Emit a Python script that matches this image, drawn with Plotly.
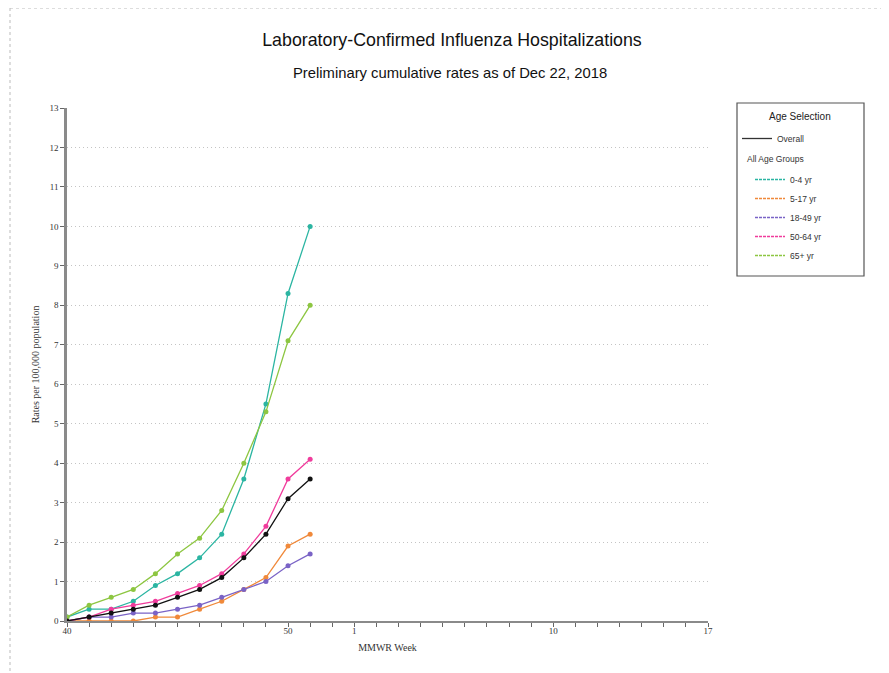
import plotly.graph_objects as go

# MMWR week categories (season axis)
weeks = ["40", "41", "42", "43", "44", "45", "46", "47", "48", "49", "50", "51", "52",
         "1", "2", "3", "4", "5", "6", "7", "8", "9", "10", "11", "12", "13", "14", "15", "16", "17"]
tick_labels = {"40": "40", "50": "50", "1": "1", "10": "10", "17": "17"}

observed_weeks = ["40", "41", "42", "43", "44", "45", "46", "47", "48", "49", "50", "51"]
overall = [0.0, 0.1, 0.2, 0.3, 0.4, 0.6, 0.8, 1.1, 1.6, 2.2, 3.1, 3.6]
rates_0_4 = [0.1, 0.3, 0.3, 0.5, 0.9, 1.2, 1.6, 2.2, 3.6, 5.5, 8.3, 10.0]
rates_5_17 = [0.0, 0.0, 0.0, 0.0, 0.1, 0.1, 0.3, 0.5, 0.8, 1.1, 1.9, 2.2]
rates_18_49 = [0.0, 0.1, 0.1, 0.2, 0.2, 0.3, 0.4, 0.6, 0.8, 1.0, 1.4, 1.7]
rates_50_64 = [0.0, 0.1, 0.3, 0.4, 0.5, 0.7, 0.9, 1.2, 1.7, 2.4, 3.6, 4.1]
rates_65_plus = [0.1, 0.4, 0.6, 0.8, 1.2, 1.7, 2.1, 2.8, 4.0, 5.3, 7.1, 8.0]

groups = [
    ("0-4 yr", rates_0_4, "#2bb5a2"),
    ("5-17 yr", rates_5_17, "#f0893a"),
    ("18-49 yr", rates_18_49, "#7a63c6"),
    ("50-64 yr", rates_50_64, "#f03c9c"),
    ("65+ yr", rates_65_plus, "#8dc641"),
]

fig = go.Figure()

for name, vals, color in groups:
    fig.add_trace(go.Scatter(
        x=observed_weeks, y=vals, mode="lines+markers", name=name,
        line=dict(color=color, width=1.3), marker=dict(color=color, size=5),
        showlegend=False))
fig.add_trace(go.Scatter(
    x=observed_weeks, y=overall, mode="lines+markers", name="Overall",
    line=dict(color="#111111", width=1.3), marker=dict(color="#111111", size=5),
    showlegend=False))

# legend-only entries
fig.add_trace(go.Scatter(x=[None], y=[None], mode="lines", name="Overall",
                         line=dict(color="#333333", width=1.3), legend="legend"))
for name, vals, color in groups:
    fig.add_trace(go.Scatter(x=[None], y=[None], mode="lines", name=name,
                             line=dict(color=color, width=1.6, dash="3px,1px"), legend="legend2"))

serif = "Liberation Serif, Times New Roman, serif"
sans = "Liberation Sans, Arial, sans-serif"

W, H = 881, 665  # page has an 8px body margin

def px(x):
    return (x - 67) / 641

def py(y):
    return (621 - y) / 513

fig.update_layout(
    width=W, height=H,
    margin=dict(l=59, r=181, t=100, b=52),
    paper_bgcolor="white", plot_bgcolor="white",
    title=dict(text="Laboratory-Confirmed Influenza Hospitalizations",
               x=(452 - 8) / W, xanchor="center", y=1 - 32 / H, yanchor="middle",
               font=dict(family=sans, size=17.8, color="#111111")),
    xaxis=dict(
        type="category", categoryorder="array", categoryarray=weeks,
        range=[0, len(weeks) - 1],
        tickmode="array", tickvals=weeks,
        ticktext=[tick_labels.get(w, "") for w in weeks],
        ticks="outside", ticklen=4, tickcolor="#666666", tickwidth=1,
        ticklabelstandoff=-4,
        showline=True, linecolor="#8a8a8a", linewidth=2,
        showgrid=False, zeroline=False,
        tickfont=dict(family=serif, size=9, color="#333333"),
        title=dict(text="MMWR Week", font=dict(family=serif, size=10, color="#333333"), standoff=9),
    ),
    yaxis=dict(
        range=[0, 13], dtick=1, tick0=0,
        ticks="outside", ticklen=4, tickcolor="#666666",
        showline=True, linecolor="#8a8a8a", linewidth=2.5,
        showgrid=True, gridcolor="#c4c4c4", griddash="1px,3px", gridwidth=1,
        zeroline=False,
        tickfont=dict(family=serif, size=9, color="#333333"),
        title=dict(text="Rates per 100,000 population", font=dict(family=serif, size=10, color="#333333"), standoff=8),
    ),
    legend=dict(x=px(737), xanchor="left", y=py(124), yanchor="top",
                bgcolor="rgba(0,0,0,0)", borderwidth=0, itemwidth=30,
                font=dict(family=sans, size=8.5, color="#333333"), tracegroupgap=0),
    legend2=dict(x=px(750), xanchor="left", y=py(165), yanchor="top",
                 bgcolor="rgba(0,0,0,0)", borderwidth=0, itemwidth=30,
                 font=dict(family=sans, size=8.5, color="#333333"), tracegroupgap=0),
    showlegend=True,
    annotations=[
        dict(text="Preliminary cumulative rates as of Dec 22, 2018", xref="paper", yref="paper",
             x=px(450), xanchor="center", y=py(73), yanchor="middle", showarrow=False,
             font=dict(family=sans, size=14.8, color="#111111")),
        dict(text="Age Selection", xref="paper", yref="paper",
             x=px(800), xanchor="center", y=py(116), yanchor="middle", showarrow=False,
             font=dict(family=sans, size=10, color="#222222")),
        dict(text="All Age Groups", xref="paper", yref="paper",
             x=px(745), xanchor="left", y=py(159), yanchor="middle", showarrow=False,
             font=dict(family=sans, size=8.5, color="#333333")),
    ],
    shapes=[
        dict(type="rect", xref="paper", yref="paper",
             x0=px(737), x1=px(864), y0=py(276), y1=py(103),
             line=dict(color="#555555", width=1.2)),
        dict(type="line", xref="paper", yref="paper",
             x0=px(10), x1=px(889), y0=py(8), y1=py(8),
             line=dict(color="#bbbbbb", width=1, dash="dot")),
        dict(type="line", xref="paper", yref="paper",
             x0=px(10), x1=px(10), y0=py(8), y1=py(673),
             line=dict(color="#bbbbbb", width=1, dash="dot")),
    ],
)

fig.write_html("out.html")
